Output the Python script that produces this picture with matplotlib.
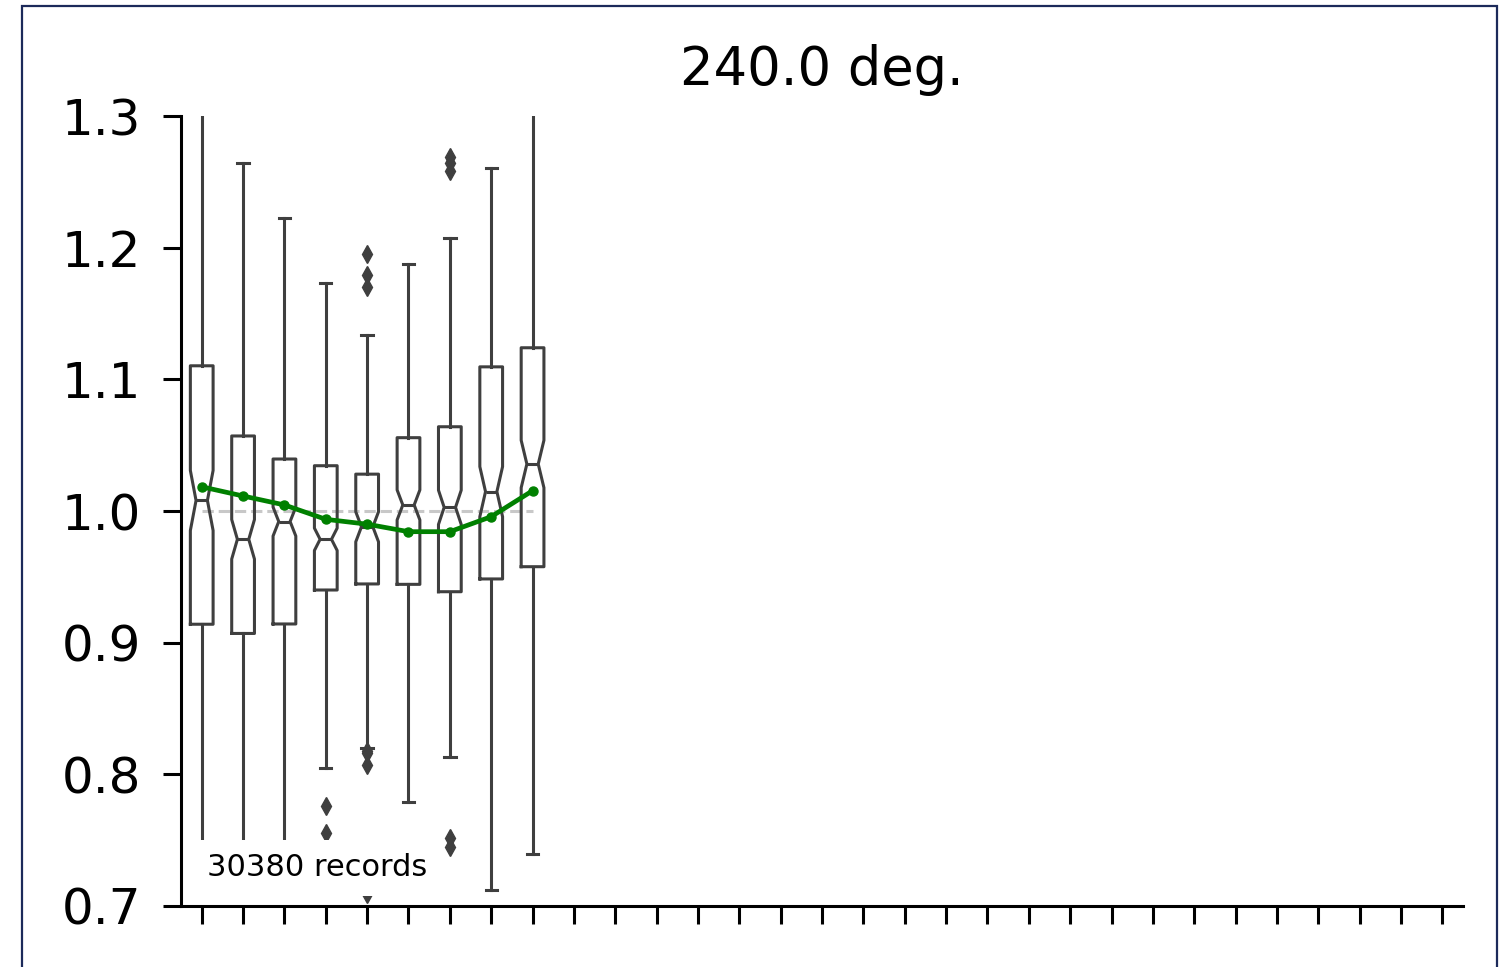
import numpy as np
import matplotlib
matplotlib.use("Agg")
import matplotlib.pyplot as plt
from matplotlib.patches import Rectangle

# box statistics, one entry per box
medians = [1.008, 0.9785, 0.992, 0.9785, 0.988, 1.0046, 1.0028, 1.0147, 1.0357]
q1s = [0.914, 0.907, 0.9142, 0.940, 0.9446, 0.9443, 0.9387, 0.9484, 0.9577]
q3s = [1.1103, 1.057, 1.0395, 1.0344, 1.028, 1.0557, 1.064, 1.1095, 1.124]
whis_lo = [0.73, 0.725, 0.735, 0.8045, 0.8198, 0.7788, 0.8134, 0.7122, 0.7395]
whis_hi = [1.34, 1.2645, 1.2227, 1.1733, 1.1337, 1.1873, 1.2075, 1.2602, 1.33]
notch_half = [0.0228, 0.015, 0.011, 0.0085, 0.0114, 0.0114, 0.013, 0.019, 0.018]
fliers = [
    [],
    [],
    [],
    [0.776, 0.7552],
    [1.195, 1.179, 1.170, 0.818, 0.816, 0.807, 0.7088],
    [],
    [1.269, 1.264, 1.258, 0.7514, 0.745],
    [],
    [],
]
means = [1.0184, 1.0114, 1.0046, 0.9937, 0.990, 0.9843, 0.9843, 0.9957, 1.0154]
n_ticks = 31
n_records = 30380
angle = 240.0

stats = []
for i in range(len(medians)):
    stats.append(dict(med=medians[i], q1=q1s[i], q3=q3s[i],
                      whislo=whis_lo[i], whishi=whis_hi[i],
                      cilo=medians[i] - notch_half[i],
                      cihi=medians[i] + notch_half[i],
                      fliers=np.array(fliers[i])))

fig = plt.figure(figsize=(15.05, 9.67), dpi=100)
ax = fig.add_axes([0.1203, 0.0631, 0.8518, 0.8169])

gray = '#3f3f3f'
lw = 2.2
pos = np.arange(len(medians))
ax.bxp(stats, positions=pos, widths=0.55, shownotches=True,
       boxprops=dict(color=gray, linewidth=lw),
       whiskerprops=dict(color=gray, linewidth=lw),
       capprops=dict(color=gray, linewidth=lw),
       medianprops=dict(color=gray, linewidth=lw),
       flierprops=dict(marker='d', markerfacecolor=gray, markeredgecolor=gray,
                       markersize=9, linestyle='none'),
       manage_ticks=False)

ax.plot([pos[0], pos[-1]], [1.0, 1.0], color='#c8c8c8', linestyle='--',
        linewidth=2.2, zorder=1)
ax.plot(pos, means, color='green', marker='o', markersize=6.5, linewidth=3.4, zorder=4)

ax.text(0.02, 0.03, "%d records" % n_records, transform=ax.transAxes,
        fontsize=22, ha='left', va='bottom', zorder=5,
        bbox=dict(facecolor='white', edgecolor='none', pad=10))

ax.set_xlim(-0.5, n_ticks - 0.5)
ax.set_ylim(0.7, 1.3)
ax.set_xticks(np.arange(n_ticks))
ax.set_xticklabels([])
ax.set_yticks(np.arange(0.7, 1.31, 0.1))
ax.set_yticklabels(["%.1f" % v for v in np.arange(0.7, 1.31, 0.1)])
ax.tick_params(axis='y', labelsize=36, length=13, width=lw, pad=16)
ax.tick_params(axis='x', length=13, width=lw)
for s in ['top', 'right']:
    ax.spines[s].set_visible(False)
for s in ['left', 'bottom']:
    ax.spines[s].set_linewidth(lw)

ax.set_title("%.1f deg." % angle, fontsize=38, pad=22)

# frame round the figure, bottom edge cut off as in the original
fig.patches.append(Rectangle((22 / 1505, -0.05), (1497 - 22) / 1505, 1.05 - 6 / 967,
                             transform=fig.transFigure, fill=False,
                             edgecolor='#1c2a5a', linewidth=1.6))

fig.savefig('out.png', dpi=100)
